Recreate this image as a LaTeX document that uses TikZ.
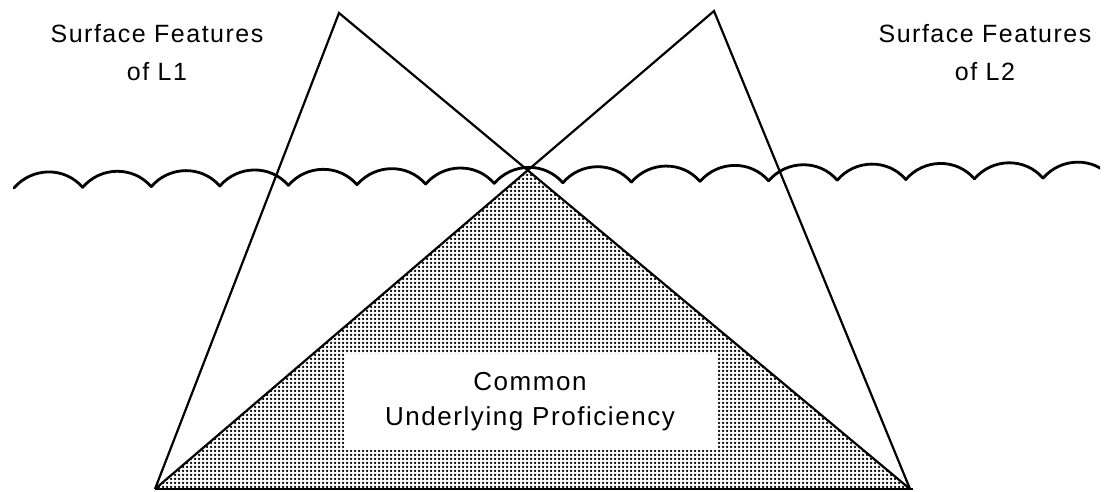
\documentclass[tikz,border=0pt]{standalone}
\usepackage{fontspec}
\setmainfont{Liberation Sans}[LetterSpace=6]
\usetikzlibrary{patterns}
% dotted fill of the shared part
\pgfdeclarepatternformonly{cupdots}{\pgfqpoint{-1.5pt}{-1.5pt}}{\pgfqpoint{2.7pt}{2.7pt}}{\pgfqpoint{4.2pt}{4.2pt}}{%
  \pgfpathcircle{\pgfqpoint{1pt}{1pt}}{1.5pt}\pgfusepath{fill}}

\begin{document}
\begin{tikzpicture}[x=1pt,y=-1pt,
    tri/.style={line width=2.2pt,line join=miter},
    wave/.style={line width=2.8pt,line cap=round},
    label/.style={align=center,font=\fontsize{25}{38}\selectfont,inner sep=0pt},
    cupbox/.style={fill=white,minimum width=373pt,minimum height=96pt,align=center,
                   font=\fontsize{26}{35}\selectfont,inner sep=0pt}]
  \useasboundingbox (0,0) rectangle (1107,491);
  % corners of the two icebergs
  \coordinate (apexL) at (339,13);
  \coordinate (apexR) at (714,11);
  \coordinate (baseL) at (155,489);
  \coordinate (baseR) at (910,489);
  \coordinate (meet) at (intersection of apexL--baseR and apexR--baseL);
  % shared part
  \fill[pattern=cupdots] (meet) -- (baseL) -- (baseR) -- cycle;
  \draw[tri] (baseL) -- (apexL) -- (baseR);
  \draw[tri] (baseL) -- (apexR) -- (baseR);
  \draw[line width=2.8pt] (baseL) -- ([xshift=3pt]baseR);
  % surface line
  \begin{scope}
    \clip (0,0) rectangle (1100,491);
    \foreach \i in {0,...,15}{
      \pgfmathsetmacro\xa{14+68.6*\i}
      \pgfmathsetmacro\xb{\xa+68.6}
      \pgfmathsetmacro\ya{188-0.0095*(\xa-14)}
      \pgfmathsetmacro\yb{188-0.0095*(\xb-14)}
      \draw[wave] (\xa,\ya) .. controls (\xa+18,\ya-21) and (\xb-18,\yb-21) .. (\xb,\yb);
    }
  \end{scope}
  \node[cupbox] (cup) at (530,402) {Common\\Underlying Proficiency};
  \node[label] (sf1) at (157,53) {Surface Features\\of L1};
  \node[label] (sf2) at (985,53) {Surface Features\\of L2};
\end{tikzpicture}
\end{document}
